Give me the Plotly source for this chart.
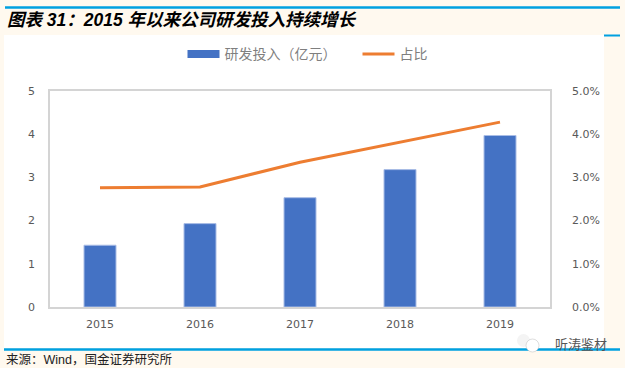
import plotly.graph_objects as go

years = ["2015", "2016", "2017", "2018", "2019"]
invest = [1.43, 1.93, 2.53, 3.18, 3.97]
share = [2.76, 2.78, 3.35, 3.82, 4.28]
left_ticks = [0, 1, 2, 3, 4, 5]
right_ticks = [0, 1, 2, 3, 4, 5]
right_labels = ["0.0%", "1.0%", "2.0%", "3.0%", "4.0%", "5.0%"]

W, H = 625, 368
CJK = "Noto Sans CJK SC"
LATIN_CJK = "Liberation Sans, Noto Sans CJK SC"
GREY = "#595959"
BLUE = "#4472C4"
ORANGE = "#ED7D31"
AXIS = "#D4D4D4"
CREAM = "#FFF9EF"
RULE = "#00A0E0"


def px(v):
    return (v - 50) / 500


def py(v):
    return (307 - v) / 216


fig = go.Figure()
fig.add_trace(go.Bar(x=years, y=invest, width=0.32, marker=dict(color=BLUE, line=dict(color="#A9BDE6", width=1)),
                     showlegend=False, yaxis="y"))
# legend key for the bars: wide flat swatch as in the reference
fig.add_trace(go.Scatter(x=[None], y=[None], mode="lines", name="研发投入（亿元）",
                         line=dict(color=BLUE, width=8), yaxis="y"))
fig.add_trace(go.Scatter(x=years, y=share, mode="lines", name="占比",
                         line=dict(color=ORANGE, width=3), yaxis="y2"))

fig.update_layout(
    width=W, height=H, autosize=False,
    paper_bgcolor=CREAM, plot_bgcolor="white",
    margin=dict(l=50, r=75, t=91, b=61),
    font=dict(family="DejaVu Sans", size=11, color=GREY),
    showlegend=True,
    legend=dict(orientation="h", x=0.265, y=1.17, xanchor="left", yanchor="middle",
                bgcolor="rgba(0,0,0,0)", itemwidth=32, traceorder="normal",
                entrywidth=128, entrywidthmode="pixels",
                font=dict(family=CJK, size=14, color="#7F7F7F")),
    xaxis=dict(type="category", showgrid=False, showline=True, linecolor=AXIS, linewidth=1.5,
               mirror=True, ticks="", tickfont=dict(size=11, color=GREY), ticklabelstandoff=6),
    yaxis=dict(range=[0, 5], tickvals=left_ticks, showgrid=False, zeroline=False, showline=True,
               linecolor=AXIS, linewidth=1.5, ticks="", ticklabelstandoff=11,
               tickfont=dict(size=11, color=GREY)),
    yaxis2=dict(range=[0, 5], overlaying="y", side="right", tickvals=right_ticks, ticktext=right_labels,
                showgrid=False, zeroline=False, showline=True, linecolor=AXIS, linewidth=1.5,
                ticks="", ticklabelstandoff=18, tickfont=dict(size=11, color=GREY)),
    shapes=[
        dict(type="rect", xref="paper", yref="paper", layer="below", line_width=0, fillcolor="white",
             x0=px(4), x1=px(604), y0=py(348), y1=py(35)),
        dict(type="line", xref="paper", yref="paper", layer="below", line=dict(color=RULE, width=2),
             x0=px(604), x1=px(620), y0=py(35.5), y1=py(35.5)),
        dict(type="line", xref="paper", yref="paper", line=dict(color=RULE, width=2.5),
             x0=px(5), x1=px(620), y0=py(7.5), y1=py(7.5)),
        dict(type="line", xref="paper", yref="paper", line=dict(color=RULE, width=2.5),
             x0=px(4), x1=px(620), y0=py(349.5), y1=py(349.5)),
        # watermark bubbles
        dict(type="circle", xref="paper", yref="paper", line_width=0, fillcolor="#F4F4F4",
             x0=px(517), x1=px(530), y0=py(347), y1=py(334)),
        dict(type="circle", xref="paper", yref="paper", line=dict(color="#BBBBBB", width=0.5), fillcolor="white",
             x0=px(526), x1=px(539), y0=py(352), y1=py(339)),
    ],
    annotations=[
        dict(text="<b><i>图表 31：2015 年以来公司研发投入持续增长</i></b>", xref="paper", yref="paper",
             x=px(5), y=py(20), xanchor="left", yanchor="middle", showarrow=False,
             font=dict(family=LATIN_CJK, size=17.5, color="#000000")),
        dict(text="来源：Wind，国金证券研究所", xref="paper", yref="paper",
             x=px(4), y=py(359), xanchor="left", yanchor="middle", showarrow=False,
             font=dict(family=LATIN_CJK, size=12.5, color="#222222")),
        dict(text="听涛鉴材", xref="paper", yref="paper",
             x=px(609), y=py(343.5), xanchor="right", yanchor="middle", showarrow=False,
             font=dict(family=CJK, size=13, color="#555555")),
    ],
)
fig.write_html("out.html", config=dict(displayModeBar=False),
               post_script="document.body.style.margin='0';document.body.style.background='#FFF9EF';")
